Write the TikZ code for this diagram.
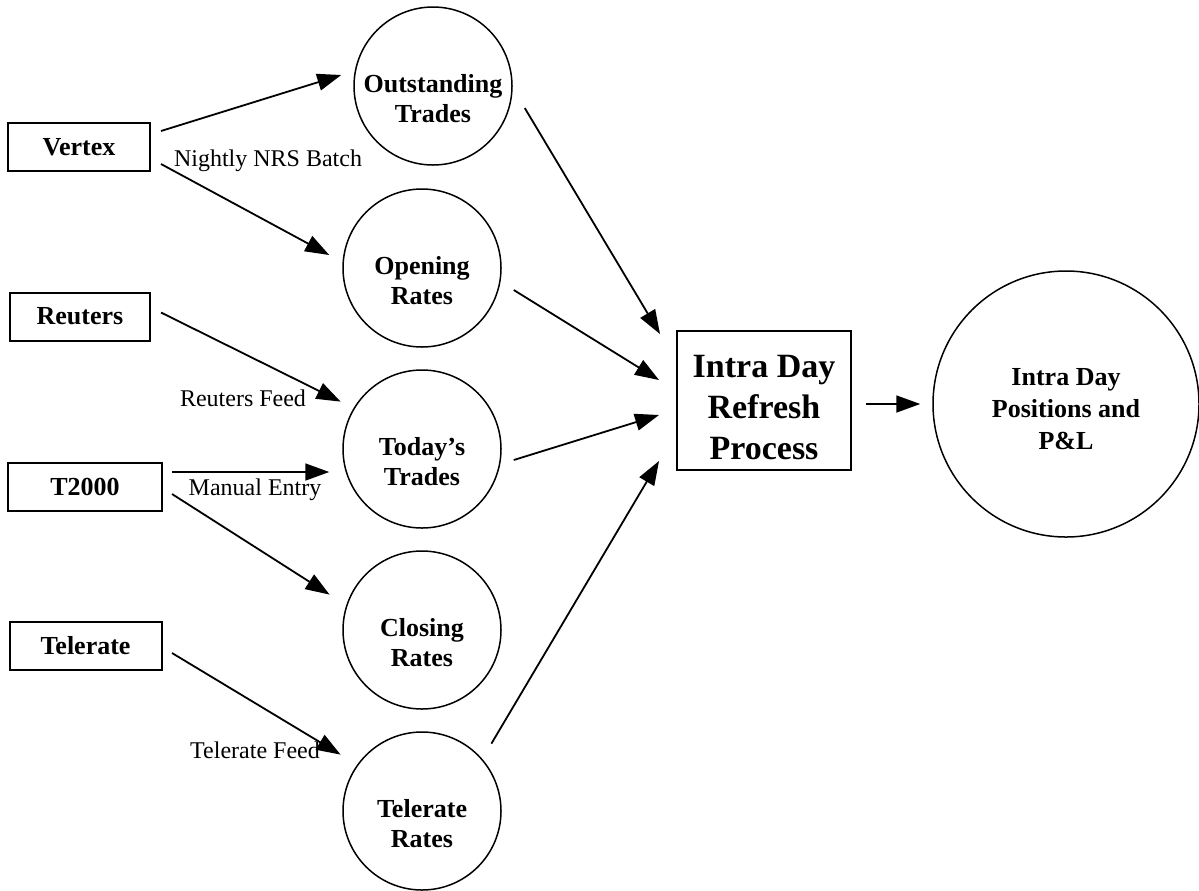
\documentclass[tikz,border=0pt]{standalone}
\usepackage{fontspec}
\setmainfont{Liberation Serif}
\usetikzlibrary{arrows.meta}

\tikzstyle{store} = [draw, circle, line width=0.75pt, minimum size=79pt, inner sep=0pt]
\tikzstyle{src} = [draw, rectangle, line width=1pt, minimum height=24pt, font=\bfseries\fontsize{13}{15}\selectfont]

\begin{document}
\begin{tikzpicture}[x=0.5pt,y=-0.5pt,
			txt/.style={align=center, font=\bfseries\fontsize{13}{15}\selectfont},
			inside/.style={txt, yshift=-6.5pt},
			feed/.style={font=\fontsize{12}{14}\selectfont},
			flow/.style={line width=0.9pt, -{Triangle[length=12pt,width=8.5pt]}}]
			\useasboundingbox (0,0) rectangle (1199,890);
			
			% sources
			\node (vertex)[src, minimum width=71pt] at (79,147) {Vertex};
			\node (reuters)[src, minimum width=70pt] at (80,316.5) {Reuters};
			\node (t2000)[src, minimum width=77pt] at (85,487) {T2000};
			\node (telerate)[src, minimum width=76pt] at (85.5,646) {Telerate};
			
			% data stores
			\node (out)[store, label={[inside]center:{Outstanding\\Trades}}] at (433,86) {};
			\node (open)[store, label={[inside]center:{Opening\\Rates}}] at (422,268) {};
			\node (today)[store, label={[inside]center:{Today's\\Trades}}] at (422,449) {};
			\node (close)[store, label={[inside]center:{Closing\\Rates}}] at (422,630) {};
			\node (telr)[store, label={[inside]center:{Telerate\\Rates}}] at (422,811) {};
			
			\node (refresh)[draw, line width=1pt, minimum width=87pt, minimum height=69.5pt,
				label={[txt, font=\bfseries\fontsize{17}{20.5}\selectfont, yshift=-3.5pt]center:{Intra Day\\Refresh\\Process}}] at (764,400.5) {};
			\node (pos)[store, minimum size=133pt, label={[txt, font=\bfseries\fontsize{13}{16}\selectfont, yshift=-2.5pt]center:{Intra Day\\Positions and\\P\&L}}] at (1066,404) {};
			
			% feeds
			\draw[flow] ([shift={(10,-16)}]vertex.east) -- ([shift={(-12,-11)}]out.west);
			\draw[flow] ([shift={(10,17)}]vertex.east) -- ([shift={(-13,-13)}]open.west);
			\draw[flow] ([shift={(10,-4)}]reuters.east) -- ([shift={(-25,9)}]today.north west);
			\draw[flow] ([shift={(9,-15)}]t2000.east) -- ([shift={(-13,23)}]today.west);
			\draw[flow] ([shift={(9,7)}]t2000.east) -- ([shift={(-36,21)}]close.north west);
			\draw[flow] ([shift={(9.5,7)}]telerate.east) -- ([shift={(-25,0)}]telr.north west);
			
			\node (nightly)[feed] at (268,161) {Nightly NRS Batch};
			\node (rfeed)[feed] at (243,398) {Reuters Feed};
			\node (manual)[feed] at (255,490) {Manual Entry};
			\node (tfeed)[feed] at (255,750) {Telerate Feed};
			
			% into the refresh
			\draw[flow] ([shift={(12,22)}]out.east) -- ([shift={(-16,4)}]refresh.north west);
			\draw[flow] ([shift={(12,22)}]open.east) -- ([shift={(-17,-20.5)}]refresh.west);
			\draw[flow] ([shift={(12,11)}]today.east) -- ([shift={(-17,14.5)}]refresh.west);
			\draw[flow] ([shift={(13,-11)}]telr.north east) -- ([shift={(-17,-10)}]refresh.south west);
			\draw[flow] ([shift={(14,3.5)}]refresh.east) -- ([shift={(-12,0)}]pos.west);
		\end{tikzpicture}
\end{document}
